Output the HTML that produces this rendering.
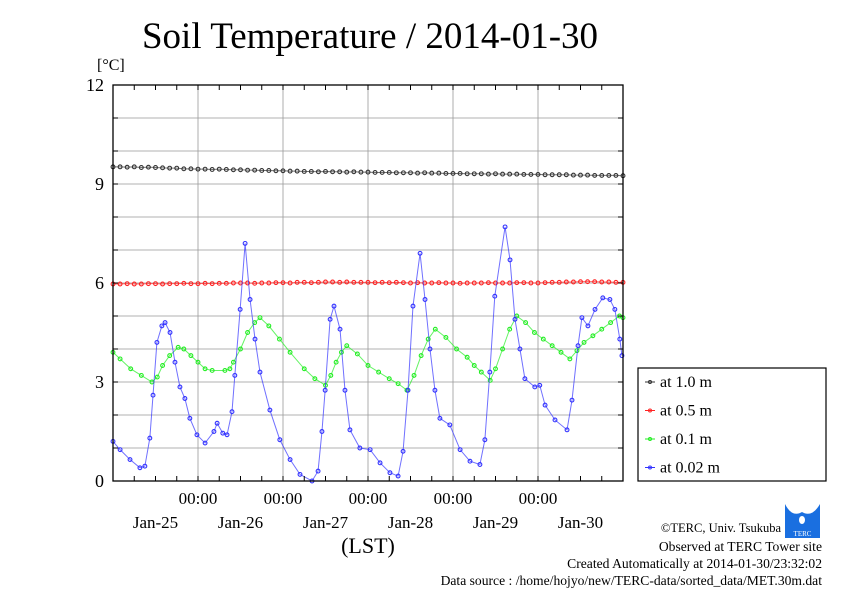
<!DOCTYPE html>
<html><head><meta charset="utf-8"><style>
body{margin:0;background:#fff;}
svg text{font-family:"Liberation Serif",serif;fill:#000;}
</style></head><body>
<svg id="chart" width="842" height="595" viewBox="0 0 842 595" xmlns="http://www.w3.org/2000/svg">
<text x="370" y="48" font-size="37" text-anchor="middle">Soil Temperature / 2014-01-30</text>
<text x="97" y="70" font-size="16">[°C]</text>
<g id="grid"></g><g id="series"></g><g id="axes"></g>
<text x="368" y="553" font-size="22" text-anchor="middle">(LST)</text>
<g>
<rect x="638" y="368" width="188" height="113" fill="#fff" stroke="#000" stroke-width="1.2"/>
<g id="legend-items"></g>
</g>
<g font-size="13.6">
<text x="781" y="532" text-anchor="end" font-size="12.5">©TERC, Univ. Tsukuba</text>
<text x="822" y="551" text-anchor="end">Observed at TERC Tower site</text>
<text x="822" y="568" text-anchor="end">Created Automatically at 2014-01-30/23:32:02</text>
<text x="822" y="585" text-anchor="end">Data source : /home/hojyo/new/TERC-data/sorted_data/MET.30m.dat</text>
</g>
<g>
<rect x="785" y="504" width="35" height="34" fill="#1a6fe0"/>
<path d="M785 504 Q792 518 802 512 Q812 518 820 504 Z" fill="#fff"/>
<ellipse cx="802" cy="520" rx="3" ry="4" fill="#fff"/>
<text x="802.5" y="536" font-size="7" text-anchor="middle" style="fill:#fff" font-family="Liberation Sans">TERC</text>
</g>
</svg>
<script>
const yTicks=[0,3,6,9,12];
const dayLabels=["Jan-25","Jan-26","Jan-27","Jan-28","Jan-29","Jan-30"];
const blueH=[0,2,4.8,7.6,9,10.4,11.3,12.4,13.8,14.7,16.1,17.5,18.9,20.3,21.7,23.7,26,28.5,29.4,31,32.2,33.6,34.4,35.9,37.3,38.7,40.1,41.5,44.3,47.1,50,52.8,56.2,57.9,59,59.9,61.3,62.4,64.1,65.5,66.9,69.7,72.6,75.4,78.2,80.5,81.9,83.3,84.7,86.7,88.1,89.5,90.9,92.3,95.1,98,100.8,103.6,105,106.4,107.8,110.7,112.1,113.5,114.9,116.3,119.1,120.5,122,124.8,128.2,129.6,131.3,132.4,134.1,136.1,138.3,140.3,141.7,143.1,143.7];
const blueV=[1.2,0.95,0.65,0.4,0.45,1.3,2.6,4.2,4.7,4.8,4.5,3.6,2.85,2.5,1.9,1.4,1.15,1.5,1.75,1.45,1.4,2.1,3.2,5.2,7.2,5.5,4.3,3.3,2.15,1.25,0.65,0.2,0.0,0.3,1.5,2.75,4.9,5.3,4.6,2.75,1.55,1.0,0.95,0.55,0.25,0.15,0.9,2.75,5.3,6.9,5.5,4.0,2.75,1.9,1.7,0.95,0.6,0.5,1.25,3.3,5.6,7.7,6.7,4.9,4.0,3.1,2.85,2.9,2.3,1.85,1.55,2.45,4.1,4.95,4.7,5.2,5.55,5.5,5.2,4.3,3.8];
const greenH=[0,2,5,8,11,12.5,14,16,18.4,20,22,24,26,28,31.6,33,34,36,38,40,41.5,44,47,50,54,57,60,61.5,63,64.5,66,69,72,75,78,80.5,83,85,87,89,91,94,97,100,102,104,106.5,108,110,112,114,116.5,119,121.5,124,126.5,129,131,133,135.5,138,140.5,143,144];
const greenV=[3.9,3.7,3.4,3.2,3.0,3.15,3.5,3.8,4.05,4.0,3.8,3.6,3.4,3.35,3.35,3.4,3.6,4.0,4.5,4.8,4.95,4.7,4.3,3.9,3.4,3.1,2.9,3.2,3.6,3.9,4.1,3.85,3.5,3.3,3.1,2.95,2.75,3.2,3.8,4.3,4.6,4.35,4.0,3.75,3.5,3.3,3.05,3.4,4.0,4.6,5.0,4.8,4.5,4.3,4.1,3.9,3.7,3.95,4.2,4.4,4.6,4.8,5.0,4.95];
const twoH=[0,2,4,6,8,10,12,14,16,18,20,22,24,26,28,30,32,34,36,38,40,42,44,46,48,50,52,54,56,58,60,62,64,66,68,70,72,74,76,78,80,82,84,86,88,90,92,94,96,98,100,102,104,106,108,110,112,114,116,118,120,122,124,126,128,130,132,134,136,138,140,142,144];
const blackV=[9.52,9.52,9.51,9.52,9.5,9.51,9.5,9.49,9.48,9.48,9.46,9.46,9.45,9.45,9.44,9.45,9.44,9.43,9.43,9.42,9.42,9.41,9.41,9.4,9.4,9.39,9.39,9.38,9.38,9.37,9.38,9.37,9.37,9.36,9.37,9.36,9.36,9.35,9.35,9.35,9.34,9.34,9.34,9.33,9.34,9.33,9.33,9.32,9.32,9.32,9.31,9.31,9.31,9.3,9.31,9.3,9.3,9.3,9.29,9.29,9.29,9.28,9.28,9.28,9.28,9.27,9.27,9.27,9.26,9.26,9.26,9.26,9.25];
const redV=[5.97,5.97,5.98,5.97,5.97,5.98,5.98,5.97,5.98,5.98,5.99,5.98,5.98,5.99,5.98,5.99,5.99,6.0,6.0,6.0,5.99,6.0,6.0,6.01,6.01,6.0,6.02,6.02,6.01,6.02,6.03,6.03,6.02,6.03,6.02,6.02,6.02,6.01,6.02,6.01,6.02,6.01,6.0,6.01,6.0,6.0,6.01,6.0,6.0,5.99,6.0,6.0,6.0,6.01,6.0,6.0,6.0,6.01,6.01,6.0,6.0,6.01,6.02,6.02,6.03,6.03,6.04,6.04,6.04,6.03,6.03,6.02,6.02];
const L=113,R=623,T=85,B=481;
const xs=h=>L+h*(R-L)/144, ys=v=>B-v*(B-T)/12;
const NS="http://www.w3.org/2000/svg";
function mk(tag,attrs,parent){const e=document.createElementNS(NS,tag);for(const k in attrs)e.setAttribute(k,attrs[k]);parent.appendChild(e);return e;}
const grid=document.getElementById('grid'),axes=document.getElementById('axes'),ser=document.getElementById('series');
for(let v=1;v<12;v++){const g=mk('line',{x1:L,x2:R,y1:ys(v),y2:ys(v),stroke:'#999','stroke-width':0.8},grid);

}
for(let d=1;d<6;d++){const g=mk('line',{x1:xs(d*24),x2:xs(d*24),y1:T,y2:B,stroke:'#999','stroke-width':0.8},grid);


const t=mk('text',{x:xs(d*24),y:504,'font-size':17,'text-anchor':'middle'},axes);t.textContent='00:00';

}
dayLabels.forEach((s,i)=>{const t=mk('text',{x:xs(i*24+12),y:528,'font-size':17,'text-anchor':'middle'},axes);t.textContent=s;

});
for(let h=6;h<144;h+=6){mk('line',{x1:xs(h),x2:xs(h),y1:B,y2:B-5,stroke:'#000'},axes);mk('line',{x1:xs(h),x2:xs(h),y1:T,y2:T+5,stroke:'#000'},axes);}
for(let v=1;v<12;v++){mk('line',{x1:L,x2:L+5,y1:ys(v),y2:ys(v),stroke:'#000'},axes);mk('line',{x1:R,x2:R-5,y1:ys(v),y2:ys(v),stroke:'#000'},axes);}
yTicks.forEach(v=>{const t=mk('text',{x:104,y:ys(v)+6,'font-size':18,'text-anchor':'end'},axes);t.textContent=v;

});
const fr=mk('rect',{x:L,y:T,width:R-L,height:B-T,fill:'none',stroke:'#000','stroke-width':1.3},axes);


function series(H,V,col,name){const g=mk('g',{},ser);


mk('polyline',{points:H.map((h,i)=>xs(h)+','+ys(V[i])).join(' '),fill:'none',stroke:col,'stroke-width':1,'stroke-opacity':0.7},g);
H.forEach((h,i)=>mk('circle',{cx:xs(h),cy:ys(V[i]),r:1.9,fill:'none',stroke:col,'stroke-width':1.1},g));}
series(twoH,blackV,'#333','series-1-0m');
series(twoH,redV,'#f22','series-0-5m');
series(greenH,greenV,'#2e2','series-0-1m');
series(blueH,blueV,'#33f','series-0-02m');
const leg=[['at 1.0 m','#333'],['at 0.5 m','#f22'],['at 0.1 m','#2e2'],['at 0.02 m','#33f']];
const li=document.getElementById('legend-items');
leg.forEach((e,i)=>{const y=382+i*28.5;const g=mk('g',{},li);


mk('line',{x1:645,x2:655,y1:y,y2:y,stroke:e[1]},g);mk('circle',{cx:650,cy:y,r:1.5,fill:'none',stroke:e[1]},g);
const t=mk('text',{x:660,y:y+5,'font-size':16},g);t.textContent=e[0];});
</script>
</body></html>
